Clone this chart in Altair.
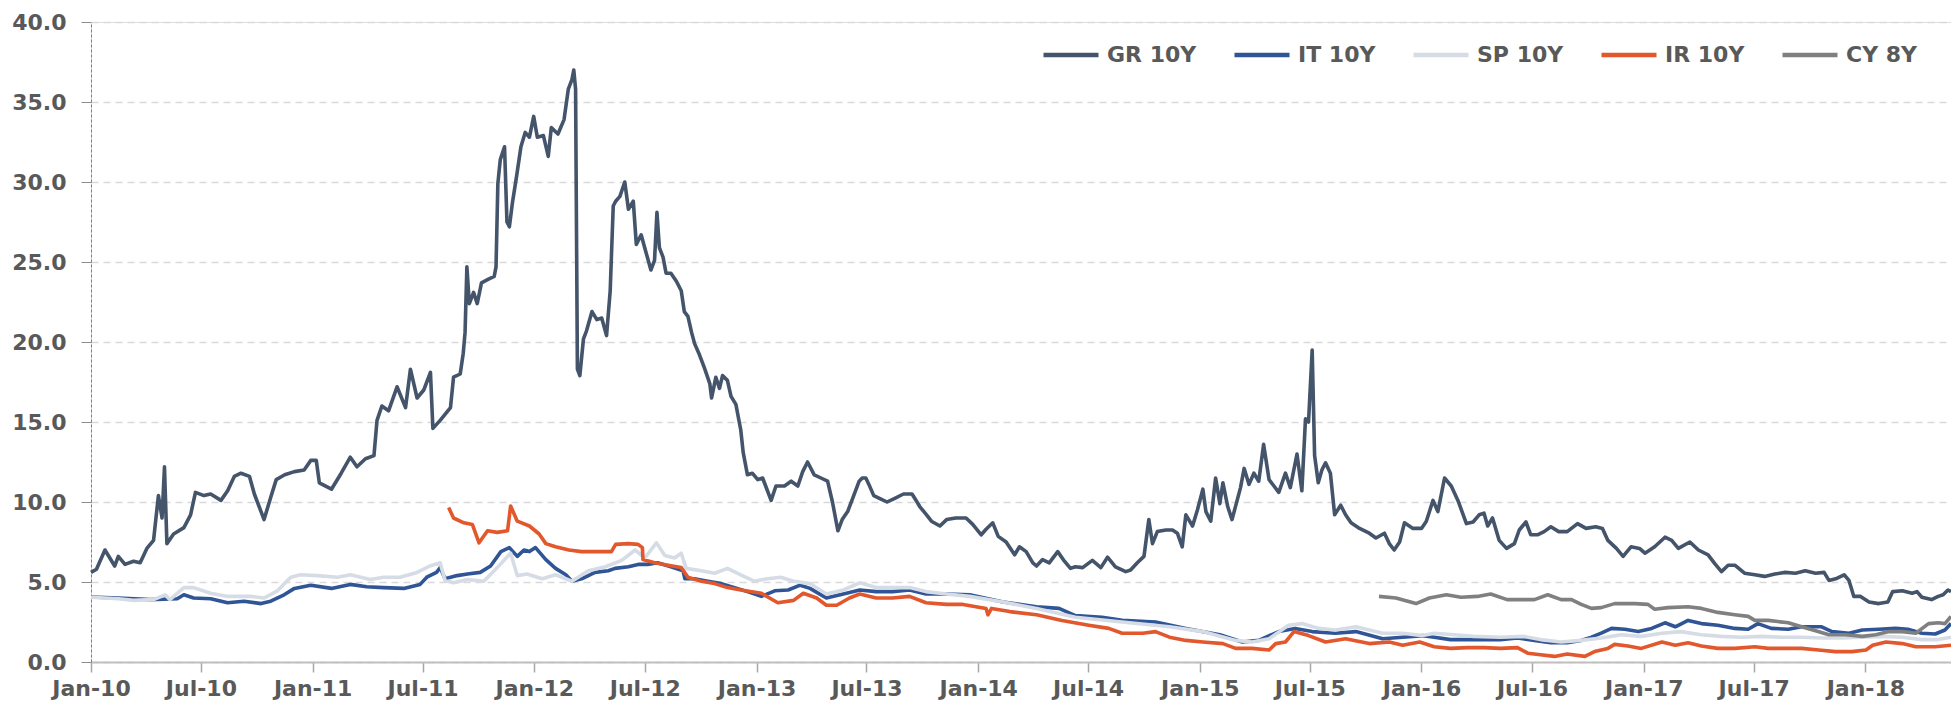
import altair as alt
import pandas as pd

series_names = ["GR 10Y", "IT 10Y", "SP 10Y", "IR 10Y", "CY 8Y"]
series_colors = ["#44546A", "#2F5597", "#D6DCE5", "#E2572B", "#808080"]

gr_dates = [
    "2010-01-01", "2010-01-10", "2010-01-24", "2010-02-09", "2010-02-15", "2010-02-26", "2010-03-12", "2010-03-23",
    "2010-04-03", "2010-04-14", "2010-04-22", "2010-04-28", "2010-05-02", "2010-05-06", "2010-05-17", "2010-06-03",
    "2010-06-14", "2010-06-22", "2010-07-06", "2010-07-17", "2010-08-03", "2010-08-14", "2010-08-25", "2010-09-05",
    "2010-09-19", "2010-09-27", "2010-10-13", "2010-10-24", "2010-11-02", "2010-11-16", "2010-12-02", "2010-12-18",
    "2010-12-29", "2011-01-07", "2011-01-12", "2011-02-01", "2011-02-17", "2011-03-04", "2011-03-15", "2011-03-29",
    "2011-04-12", "2011-04-17", "2011-04-25", "2011-05-06", "2011-05-20", "2011-06-03", "2011-06-11", "2011-06-22",
    "2011-07-03", "2011-07-14", "2011-07-18", "2011-07-30", "2011-08-16", "2011-08-21", "2011-09-01", "2011-09-06",
    "2011-09-09", "2011-09-12", "2011-09-16", "2011-09-23", "2011-09-29", "2011-10-06", "2011-10-16", "2011-10-27",
    "2011-10-30", "2011-11-02", "2011-11-06", "2011-11-13", "2011-11-17", "2011-11-21", "2011-11-26", "2011-12-03",
    "2011-12-10", "2011-12-17", "2011-12-24", "2011-12-31", "2012-01-06", "2012-01-16", "2012-01-24", "2012-01-29",
    "2012-02-09", "2012-02-19", "2012-02-26", "2012-03-03", "2012-03-06", "2012-03-09", "2012-03-12", "2012-03-16",
    "2012-03-22", "2012-03-27", "2012-04-05", "2012-04-13", "2012-04-21", "2012-04-29", "2012-05-05", "2012-05-10",
    "2012-05-14", "2012-05-21", "2012-05-29", "2012-06-04", "2012-06-12", "2012-06-17", "2012-06-25", "2012-07-03",
    "2012-07-11", "2012-07-17", "2012-07-21", "2012-07-25", "2012-07-31", "2012-08-05", "2012-08-13", "2012-08-22",
    "2012-08-30", "2012-09-04", "2012-09-10", "2012-09-16", "2012-09-21", "2012-09-29", "2012-10-07", "2012-10-16",
    "2012-10-19", "2012-10-26", "2012-11-01", "2012-11-06", "2012-11-14", "2012-11-20", "2012-11-28", "2012-12-06",
    "2012-12-10", "2012-12-17", "2012-12-25", "2013-01-03", "2013-01-11", "2013-01-16", "2013-01-25", "2013-02-02",
    "2013-02-16", "2013-02-27", "2013-03-10", "2013-03-18", "2013-03-26", "2013-04-06", "2013-04-17", "2013-04-28",
    "2013-05-06", "2013-05-15", "2013-05-22", "2013-05-31", "2013-06-08", "2013-06-19", "2013-06-24", "2013-06-30",
    "2013-07-05", "2013-07-13", "2013-07-24", "2013-08-04", "2013-08-15", "2013-08-31", "2013-09-14", "2013-09-19",
    "2013-09-27", "2013-10-08", "2013-10-16", "2013-10-30", "2013-11-10", "2013-11-25", "2013-12-12", "2013-12-23",
    "2014-01-06", "2014-01-14", "2014-01-25", "2014-02-03", "2014-02-16", "2014-03-02", "2014-03-10", "2014-03-21",
    "2014-04-01", "2014-04-07", "2014-04-17", "2014-04-28", "2014-05-12", "2014-05-23", "2014-06-02", "2014-06-10",
    "2014-06-22", "2014-07-08", "2014-07-22", "2014-08-02", "2014-08-15", "2014-09-01", "2014-09-09", "2014-09-20",
    "2014-10-01", "2014-10-09", "2014-10-15", "2014-10-23", "2014-11-06", "2014-11-17", "2014-11-25", "2014-12-03",
    "2014-12-09", "2014-12-20", "2014-12-28", "2015-01-06", "2015-01-11", "2015-01-19", "2015-01-27", "2015-02-03",
    "2015-02-08", "2015-02-16", "2015-02-23", "2015-03-02", "2015-03-09", "2015-03-15", "2015-03-23", "2015-03-31",
    "2015-04-08", "2015-04-16", "2015-04-25", "2015-05-03", "2015-05-11", "2015-05-22", "2015-05-30", "2015-06-10",
    "2015-06-18", "2015-06-24", "2015-06-29", "2015-07-05", "2015-07-09", "2015-07-15", "2015-07-21", "2015-07-27",
    "2015-08-04", "2015-08-11", "2015-08-21", "2015-08-29", "2015-09-07", "2015-09-21", "2015-10-07", "2015-10-18",
    "2015-11-01", "2015-11-09", "2015-11-17", "2015-11-26", "2015-12-04", "2015-12-18", "2016-01-01", "2016-01-09",
    "2016-01-20", "2016-01-28", "2016-02-08", "2016-02-19", "2016-03-01", "2016-03-15", "2016-03-26", "2016-04-05",
    "2016-04-13", "2016-04-19", "2016-04-27", "2016-05-08", "2016-05-20", "2016-06-02", "2016-06-10", "2016-06-21",
    "2016-06-29", "2016-07-10", "2016-07-21", "2016-08-01", "2016-08-14", "2016-08-28", "2016-09-14", "2016-09-28",
    "2016-10-14", "2016-10-25", "2016-11-03", "2016-11-17", "2016-11-28", "2016-12-11", "2016-12-25", "2017-01-03",
    "2017-01-19", "2017-02-05", "2017-02-16", "2017-02-27", "2017-03-18", "2017-04-01", "2017-04-17", "2017-04-28",
    "2017-05-09", "2017-05-20", "2017-05-31", "2017-06-16", "2017-07-03", "2017-07-19", "2017-08-05", "2017-08-22",
    "2017-09-08", "2017-09-24", "2017-10-11", "2017-10-25", "2017-11-02", "2017-11-13", "2017-11-27", "2017-12-05",
    "2017-12-13", "2017-12-24", "2018-01-07", "2018-01-23", "2018-02-07", "2018-02-15", "2018-03-03", "2018-03-19",
    "2018-03-27", "2018-04-04", "2018-04-20", "2018-05-01", "2018-05-09", "2018-05-17", "2018-05-22",
]
gr_values = [
    5.6, 5.8, 7.0, 6.0, 6.6, 6.1, 6.3, 6.2,
    7.1, 7.6, 10.4, 9.0, 12.2, 7.4, 8.0, 8.4,
    9.2, 10.6, 10.4, 10.5, 10.1, 10.7, 11.6, 11.8,
    11.6, 10.5, 8.9, 10.3, 11.4, 11.7, 11.9, 12.0,
    12.6, 12.6, 11.2, 10.8, 11.8, 12.8, 12.2, 12.7,
    12.9, 15.1, 16.0, 15.7, 17.2, 15.9, 18.3, 16.5,
    17.0, 18.1, 14.6, 15.1, 15.9, 17.8, 18.0, 19.3,
    20.6, 24.7, 22.4, 23.1, 22.4, 23.7, 23.9, 24.1,
    24.7, 29.9, 31.4, 32.2, 27.5, 27.2, 28.7, 30.4,
    32.2, 33.1, 32.8, 34.1, 32.8, 32.9, 31.6, 33.4,
    33.0, 33.9, 35.8, 36.4, 37.0, 35.8, 18.3, 17.9,
    20.2, 20.7, 21.9, 21.4, 21.5, 20.4, 23.2, 28.5,
    28.8, 29.1, 30.0, 28.3, 28.8, 26.1, 26.7, 25.6,
    24.5, 25.1, 28.1, 25.9, 25.3, 24.3, 24.3, 23.8,
    23.2, 21.9, 21.6, 20.6, 19.9, 19.2, 18.4, 17.4,
    16.5, 17.8, 17.1, 17.9, 17.6, 16.6, 16.1, 14.5,
    13.1, 11.7, 11.8, 11.4, 11.5, 11.0, 10.1, 11.0,
    11.0, 11.3, 11.0, 11.9, 12.5, 11.7, 11.5, 11.3,
    10.0, 8.2, 8.9, 9.4, 10.2, 11.3, 11.5, 11.5,
    11.1, 10.4, 10.2, 10.0, 10.2, 10.5, 10.5, 10.2,
    9.7, 9.2, 8.8, 8.5, 8.9, 9.0, 9.0, 8.6,
    7.95, 8.3, 8.7, 7.85, 7.5, 6.7, 7.2, 6.9,
    6.2, 6.0, 6.4, 6.2, 6.9, 6.3, 5.85, 5.95,
    5.9, 6.35, 5.9, 6.55, 5.95, 5.65, 5.75, 6.2,
    6.6, 8.9, 7.4, 8.15, 8.25, 8.25, 8.05, 7.2,
    9.2, 8.5, 9.5, 10.8, 9.4, 8.8, 11.5, 9.9,
    11.2, 9.7, 8.9, 9.9, 10.9, 12.1, 11.1, 11.8,
    11.3, 13.6, 11.4, 11.0, 10.6, 11.8, 10.9, 13.0,
    10.7, 15.2, 15.0, 19.5, 12.9, 11.2, 12.0, 12.45,
    11.8, 9.2, 9.8, 9.2, 8.7, 8.35, 8.05, 7.75,
    8.05, 7.4, 7.0, 7.5, 8.7, 8.35, 8.35, 8.8,
    10.1, 9.4, 11.5, 11.0, 10.1, 8.65, 8.75, 9.2,
    9.3, 8.5, 9.0, 7.6, 7.1, 7.4, 8.25, 8.75,
    7.95, 7.95, 8.15, 8.45, 8.15, 8.15, 8.65, 8.35,
    8.45, 8.35, 7.6, 7.1, 6.6, 7.2, 7.1, 6.8,
    7.2, 7.8, 7.6, 7.1, 7.5, 7.0, 6.7, 6.15,
    5.65, 6.05, 6.05, 5.55, 5.45, 5.35, 5.5, 5.6,
    5.55, 5.7, 5.55, 5.6, 5.1, 5.2, 5.45, 5.1,
    4.1, 4.1, 3.75, 3.65, 3.75, 4.4, 4.45, 4.3,
    4.4, 4.05, 3.9, 4.1, 4.2, 4.5, 4.4,
]

it_dates = [
    "2010-01-01", "2010-02-15", "2010-04-09", "2010-05-23", "2010-06-03", "2010-06-19", "2010-07-17", "2010-08-14",
    "2010-09-10", "2010-10-08", "2010-10-24", "2010-11-15", "2010-12-02", "2010-12-29", "2011-02-01", "2011-03-04",
    "2011-03-31", "2011-04-28", "2011-05-31", "2011-06-27", "2011-07-08", "2011-07-24", "2011-07-30", "2011-08-07",
    "2011-08-27", "2011-09-13", "2011-10-04", "2011-10-21", "2011-11-07", "2011-11-21", "2011-12-04", "2011-12-15",
    "2011-12-24", "2012-01-03", "2012-01-20", "2012-02-05", "2012-02-22", "2012-03-03", "2012-03-19", "2012-04-10",
    "2012-05-02", "2012-05-13", "2012-06-04", "2012-06-20", "2012-07-06", "2012-07-22", "2012-08-13", "2012-09-02",
    "2012-09-05", "2012-09-21", "2012-10-13", "2012-11-04", "2012-11-26", "2012-12-17", "2013-01-09", "2013-01-31",
    "2013-02-22", "2013-03-14", "2013-03-30", "2013-04-26", "2013-05-24", "2013-06-20", "2013-07-17", "2013-08-13",
    "2013-09-10", "2013-10-07", "2013-11-10", "2013-12-18", "2014-02-11", "2014-04-07", "2014-05-14", "2014-06-10",
    "2014-07-24", "2014-08-26", "2014-10-20", "2014-12-09", "2015-02-03", "2015-03-12", "2015-04-08", "2015-05-11",
    "2015-06-07", "2015-07-05", "2015-08-12", "2015-09-15", "2015-10-29", "2015-12-01", "2016-01-03", "2016-01-22",
    "2016-02-18", "2016-03-17", "2016-04-13", "2016-05-10", "2016-06-07", "2016-07-05", "2016-08-01", "2016-08-28",
    "2016-09-20", "2016-10-07", "2016-10-23", "2016-11-09", "2016-12-01", "2016-12-23", "2017-01-14", "2017-02-05",
    "2017-02-22", "2017-03-15", "2017-04-06", "2017-05-03", "2017-05-31", "2017-06-22", "2017-07-08", "2017-07-30",
    "2017-08-27", "2017-09-18", "2017-10-21", "2017-11-07", "2017-12-05", "2017-12-27", "2018-01-23", "2018-02-20",
    "2018-03-12", "2018-04-04", "2018-04-26", "2018-05-12", "2018-05-22",
]
it_values = [
    4.06, 4.0, 3.9, 3.95, 4.2, 4.0, 3.95, 3.7,
    3.8, 3.65, 3.8, 4.2, 4.6, 4.8, 4.6, 4.85,
    4.7, 4.65, 4.6, 4.85, 5.3, 5.6, 5.9, 5.2,
    5.4, 5.5, 5.6, 6.0, 6.9, 7.15, 6.6, 7.0,
    6.9, 7.15, 6.4, 5.85, 5.45, 5.05, 5.2, 5.6,
    5.7, 5.85, 5.95, 6.1, 6.1, 6.2, 5.95, 5.7,
    5.2, 5.2, 5.05, 4.9, 4.65, 4.4, 4.1, 4.45,
    4.5, 4.8, 4.6, 4.0, 4.25, 4.5, 4.4, 4.4,
    4.5, 4.25, 4.25, 4.2, 3.75, 3.45, 3.35, 2.9,
    2.8, 2.6, 2.5, 2.1, 1.7, 1.25, 1.35, 1.9,
    2.1, 1.9, 1.8, 1.9, 1.45, 1.55, 1.65, 1.55,
    1.4, 1.4, 1.4, 1.4, 1.5, 1.35, 1.2, 1.2,
    1.35, 1.55, 1.8, 2.1, 2.05, 1.9, 2.1, 2.45,
    2.2, 2.6, 2.4, 2.3, 2.1, 2.05, 2.4, 2.1,
    2.05, 2.2, 2.2, 1.9, 1.8, 2.0, 2.05, 2.1,
    2.05, 1.8, 1.75, 2.0, 2.4,
]

sp_dates = [
    "2010-01-01", "2010-02-15", "2010-03-12", "2010-04-14", "2010-05-03", "2010-05-11", "2010-06-03", "2010-06-19",
    "2010-07-17", "2010-08-14", "2010-09-21", "2010-10-13", "2010-11-04", "2010-11-26", "2010-12-12", "2011-01-09",
    "2011-02-11", "2011-03-04", "2011-04-06", "2011-04-28", "2011-05-25", "2011-06-22", "2011-07-13", "2011-07-30",
    "2011-08-07", "2011-08-21", "2011-09-13", "2011-10-10", "2011-11-01", "2011-11-23", "2011-12-04", "2011-12-20",
    "2012-01-14", "2012-02-05", "2012-03-03", "2012-03-30", "2012-04-27", "2012-05-24", "2012-06-15", "2012-07-01",
    "2012-07-20", "2012-08-03", "2012-08-19", "2012-08-30", "2012-09-07", "2012-10-02", "2012-10-24", "2012-11-14",
    "2012-12-06", "2012-12-28", "2013-01-19", "2013-02-10", "2013-03-03", "2013-03-30", "2013-04-26", "2013-05-24",
    "2013-06-20", "2013-07-17", "2013-08-13", "2013-09-10", "2013-10-07", "2013-11-10", "2013-12-18", "2014-02-11",
    "2014-04-07", "2014-06-10", "2014-08-26", "2014-11-12", "2015-01-06", "2015-03-01", "2015-03-28", "2015-04-25",
    "2015-05-27", "2015-06-18", "2015-07-16", "2015-08-12", "2015-09-15", "2015-10-29", "2015-12-01", "2016-01-03",
    "2016-01-22", "2016-02-24", "2016-03-27", "2016-05-10", "2016-06-18", "2016-07-15", "2016-08-18", "2016-09-20",
    "2016-10-23", "2016-11-25", "2016-12-28", "2017-01-31", "2017-03-03", "2017-04-06", "2017-05-09", "2017-06-11",
    "2017-07-14", "2017-08-16", "2017-09-18", "2017-10-21", "2017-11-23", "2017-12-27", "2018-01-29", "2018-03-03",
    "2018-04-04", "2018-05-01", "2018-05-22",
]
sp_values = [
    4.05, 3.95, 3.85, 3.9, 4.2, 3.9, 4.65, 4.65,
    4.3, 4.1, 4.1, 4.0, 4.45, 5.3, 5.45, 5.4,
    5.3, 5.45, 5.15, 5.3, 5.3, 5.6, 6.0, 6.2,
    5.1, 4.95, 5.15, 5.05, 5.9, 6.8, 5.4, 5.5,
    5.2, 5.45, 5.05, 5.7, 5.95, 6.35, 7.0, 6.5,
    7.45, 6.65, 6.5, 6.8, 5.85, 5.7, 5.55, 5.85,
    5.45, 5.05, 5.2, 5.3, 5.05, 4.9, 4.25, 4.5,
    4.95, 4.65, 4.65, 4.65, 4.4, 4.25, 4.1, 3.75,
    3.35, 2.8, 2.5, 2.2, 1.9, 1.35, 1.25, 1.45,
    2.3, 2.4, 2.1, 2.0, 2.2, 1.8, 1.8, 1.65,
    1.8, 1.7, 1.6, 1.55, 1.6, 1.4, 1.25, 1.35,
    1.5, 1.7, 1.6, 1.8, 1.9, 1.7, 1.6, 1.55,
    1.6, 1.55, 1.55, 1.5, 1.5, 1.55, 1.6, 1.55,
    1.4, 1.4, 1.55,
]

ir_dates = [
    "2011-08-13", "2011-08-21", "2011-09-07", "2011-09-21", "2011-10-02", "2011-10-16", "2011-11-01", "2011-11-18",
    "2011-11-23", "2011-12-04", "2011-12-24", "2012-01-09", "2012-01-20", "2012-02-05", "2012-02-27", "2012-03-19",
    "2012-04-10", "2012-05-07", "2012-05-14", "2012-06-04", "2012-06-20", "2012-06-27", "2012-06-28", "2012-07-17",
    "2012-08-08", "2012-08-30", "2012-09-10", "2012-10-02", "2012-10-24", "2012-11-14", "2012-12-06", "2013-01-09",
    "2013-02-05", "2013-03-03", "2013-03-19", "2013-04-10", "2013-04-26", "2013-05-13", "2013-06-03", "2013-06-20",
    "2013-07-17", "2013-08-13", "2013-09-10", "2013-10-07", "2013-11-10", "2013-12-07", "2014-01-14", "2014-01-17",
    "2014-01-23", "2014-02-22", "2014-04-07", "2014-05-19", "2014-07-02", "2014-08-04", "2014-08-26", "2014-09-29",
    "2014-10-20", "2014-11-12", "2014-12-09", "2015-01-06", "2015-02-08", "2015-03-01", "2015-03-28", "2015-04-25",
    "2015-05-06", "2015-05-22", "2015-06-05", "2015-06-29", "2015-07-27", "2015-08-29", "2015-10-07", "2015-11-09",
    "2015-12-01", "2015-12-29", "2016-01-22", "2016-02-18", "2016-03-17", "2016-04-13", "2016-05-10", "2016-06-07",
    "2016-06-24", "2016-07-15", "2016-08-07", "2016-08-28", "2016-09-26", "2016-10-12", "2016-11-03", "2016-11-14",
    "2016-12-06", "2016-12-28", "2017-01-31", "2017-02-22", "2017-03-15", "2017-04-06", "2017-05-03", "2017-05-31",
    "2017-07-03", "2017-07-25", "2017-08-22", "2017-09-18", "2017-10-16", "2017-11-13", "2017-12-10", "2018-01-02",
    "2018-01-13", "2018-02-04", "2018-03-03", "2018-03-25", "2018-04-26", "2018-05-22",
]
ir_values = [
    9.65, 9.0, 8.7, 8.6, 7.45, 8.2, 8.1, 8.2,
    9.75, 8.8, 8.5, 8.0, 7.4, 7.2, 7.0, 6.9,
    6.9, 6.9, 7.35, 7.4, 7.35, 7.15, 6.4, 6.2,
    6.05, 5.9, 5.3, 5.05, 4.9, 4.65, 4.5, 4.3,
    3.7, 3.85, 4.3, 4.0, 3.55, 3.55, 4.0, 4.25,
    4.0, 4.0, 4.1, 3.7, 3.6, 3.6, 3.35, 2.95,
    3.35, 3.15, 2.95, 2.6, 2.3, 2.1, 1.8, 1.8,
    1.9, 1.55, 1.35, 1.25, 1.15, 0.85, 0.85, 0.75,
    1.15, 1.25, 1.9, 1.65, 1.25, 1.45, 1.15, 1.25,
    1.05, 1.25, 0.95, 0.85, 0.9, 0.9, 0.85, 0.9,
    0.55, 0.45, 0.35, 0.5, 0.35, 0.65, 0.85, 1.1,
    1.0, 0.85, 1.25, 1.05, 1.2, 1.0, 0.85, 0.85,
    0.95, 0.85, 0.85, 0.85, 0.75, 0.65, 0.65, 0.75,
    1.05, 1.25, 1.15, 0.95, 0.95, 1.05,
]

cy_dates = [
    "2015-10-23", "2015-11-20", "2015-12-23", "2016-01-14", "2016-02-11", "2016-03-06", "2016-04-02", "2016-04-24",
    "2016-05-21", "2016-06-13", "2016-07-05", "2016-07-27", "2016-08-18", "2016-09-04", "2016-09-20", "2016-10-07",
    "2016-10-23", "2016-11-14", "2016-12-17", "2017-01-08", "2017-01-19", "2017-02-10", "2017-03-15", "2017-04-06",
    "2017-05-03", "2017-05-31", "2017-06-22", "2017-07-03", "2017-07-25", "2017-08-27", "2017-09-18", "2017-10-11",
    "2017-11-02", "2017-11-29", "2017-12-27", "2018-01-18", "2018-02-09", "2018-03-03", "2018-03-25", "2018-04-15",
    "2018-05-01", "2018-05-12", "2018-05-22",
]
cy_values = [
    4.1, 4.0, 3.65, 4.0, 4.2, 4.05, 4.1, 4.25,
    3.9, 3.9, 3.9, 4.2, 3.9, 3.9, 3.6, 3.35,
    3.4, 3.65, 3.65, 3.6, 3.3, 3.4, 3.45, 3.35,
    3.1, 2.95, 2.85, 2.6, 2.6, 2.45, 2.2, 1.95,
    1.7, 1.7, 1.6, 1.7, 1.9, 1.9, 1.8, 2.4,
    2.45, 2.4, 2.85,
]

y_ticks = [0, 5, 10, 15, 20, 25, 30, 35, 40]
x_tick_months = [(y, m) for y in range(2010, 2019) for m in (1, 7) if (y, m) != (2018, 7)]

series_data = [
    (series_names[0], gr_dates, gr_values),
    (series_names[1], it_dates, it_values),
    (series_names[2], sp_dates, sp_values),
    (series_names[3], ir_dates, ir_values),
    (series_names[4], cy_dates, cy_values),
]
frames = []
for name, d, v in series_data:
    frames.append(pd.DataFrame({"date": d, "value": v, "series": name}))
df = pd.concat(frames, ignore_index=True)

FONT = "DejaVu Sans"
TEXT = "#595959"

x_axis = alt.Axis(
    values=[alt.DateTime(year=y, month=m, date=1, utc=True) for (y, m) in x_tick_months],
    format="%b-%y", title=None, grid=False,
    domainColor="#BFBFBF", domainWidth=2, tickColor="#A6A6A6", tickWidth=1.5, tickSize=10,
    labelFont=FONT, labelFontSize=22, labelFontWeight="bold", labelColor=TEXT, labelPadding=6,
    labelAngle=0, labelOverlap=False, labelFlush=False,
)
y_axis = alt.Axis(
    values=y_ticks, format=".1f", title=None, grid=True,
    gridColor="#D9D9D9", gridDash=[7, 5], gridWidth=1.5,
    domainColor="#7F7F7F", domainDash=[3, 2], domainWidth=1,
    tickColor="#8C8C8C", tickSize=10, tickWidth=1,
    labelFont=FONT, labelFontSize=22, labelFontWeight="bold", labelColor=TEXT, labelPadding=15,
)

chart = alt.Chart(df).mark_line(strokeWidth=3.6, strokeJoin="round").encode(
    x=alt.X("date:T", axis=x_axis, scale=alt.Scale(
        type="utc",
        domain=[alt.DateTime(year=2010, month=1, date=1, utc=True),
                alt.DateTime(year=2018, month=5, date=22, utc=True)])),
    y=alt.Y("value:Q", axis=y_axis, scale=alt.Scale(domain=[0, 40], nice=False)),
    color=alt.Color("series:N", sort=series_names,
                    scale=alt.Scale(domain=series_names, range=series_colors),
                    legend=alt.Legend(
                        title=None, orient="none", legendX=950, legendY=3, direction="horizontal",
                        symbolType="stroke", symbolSize=3025, symbolStrokeWidth=4.5,
                        labelFont=FONT, labelFontSize=22, labelFontWeight="bold", labelColor=TEXT,
                        labelOffset=6, columnPadding=28, padding=0)),
    detail="series:N",
).properties(
    width=1860, height=640,
    padding={"left": 83, "top": 14, "right": 0, "bottom": 50},
    autosize=alt.AutoSizeParams(type="none"),
).configure_view(stroke=None).configure(background="white")

chart.save("out.html", embed_options={"renderer": "svg", "actions": False})
